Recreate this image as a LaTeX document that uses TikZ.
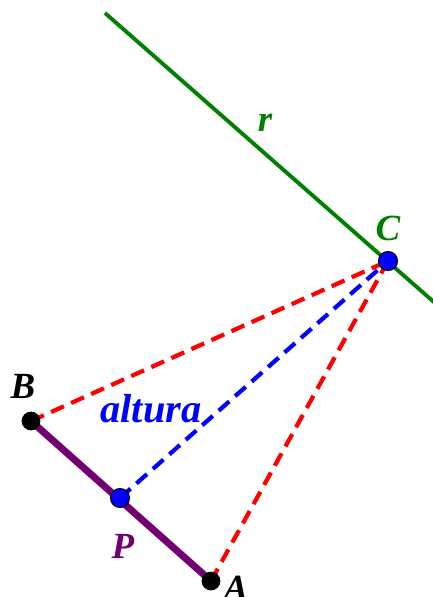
\documentclass[tikz,border=0pt]{standalone}
\usepackage{fontspec}
\setmainfont{Liberation Serif}
\usetikzlibrary{calc}
\usepackage{xcolor}
\definecolor{rgreen}{RGB}{0,128,0}
\definecolor{spurple}{RGB}{115,0,115}

\begin{document}
\begin{tikzpicture}[
  lbl/.style={font=\fontsize{21}{21}\selectfont\bfseries\itshape,inner sep=0pt},
  vtx/.style={circle,draw=black,fill=black,minimum size=0.36cm,inner sep=0pt},
  bvtx/.style={circle,draw=black,fill=blue,minimum size=0.38cm,inner sep=0pt,line width=0.6pt},
  seg/.style={spurple,line width=4pt},
  line/.style={rgreen,line width=2.2pt},
  side/.style={red,dashed,line width=2.4pt,dash pattern=on 8pt off 4.5pt},
  alt/.style={blue,dashed,line width=2.4pt,dash pattern=on 8pt off 4.5pt}
]
\useasboundingbox (0,0) rectangle (8.66,-11.94);
% points
\coordinate (r1) at (2.10,-0.26);
\coordinate (r2) at (8.70,-6.06);
\coordinate (Cc) at (7.76,-5.22);
\coordinate (Bc) at (0.62,-8.42);
\coordinate (Pc) at (2.40,-9.96);
\coordinate (Ac) at (4.22,-11.62);
% lines
\draw[line] (r1) -- (r2);
\draw[side] (Bc) -- (Cc);
\draw[side] (Ac) -- (Cc);
\draw[alt]  (Pc) -- (Cc);
\draw[seg]  (Bc) -- (Ac);
% points drawn on top
\node[vtx]  (B) at (Bc) {};
\node[vtx]  (A) at (Ac) {};
\node[bvtx] (P) at (Pc) {};
\node[bvtx] (C) at (Cc) {};
% labels
\node[lbl,text=rgreen]  (rl) at (5.30,-2.46) {r};
\node[lbl,text=rgreen]  (Cl) at (7.76,-4.56) {C};
\node[lbl]              (Bl) at (0.46,-7.72) {B};
\node[lbl,text=spurple] (Pl) at (2.46,-10.92) {P};
\node[lbl]              (Al) at (4.72,-11.76) {A};
\node[lbl,text=blue,anchor=base,font=\fontsize{23}{23}\selectfont\bfseries\itshape] (altl) at (3.02,-8.44) {altura};
\end{tikzpicture}
\end{document}
